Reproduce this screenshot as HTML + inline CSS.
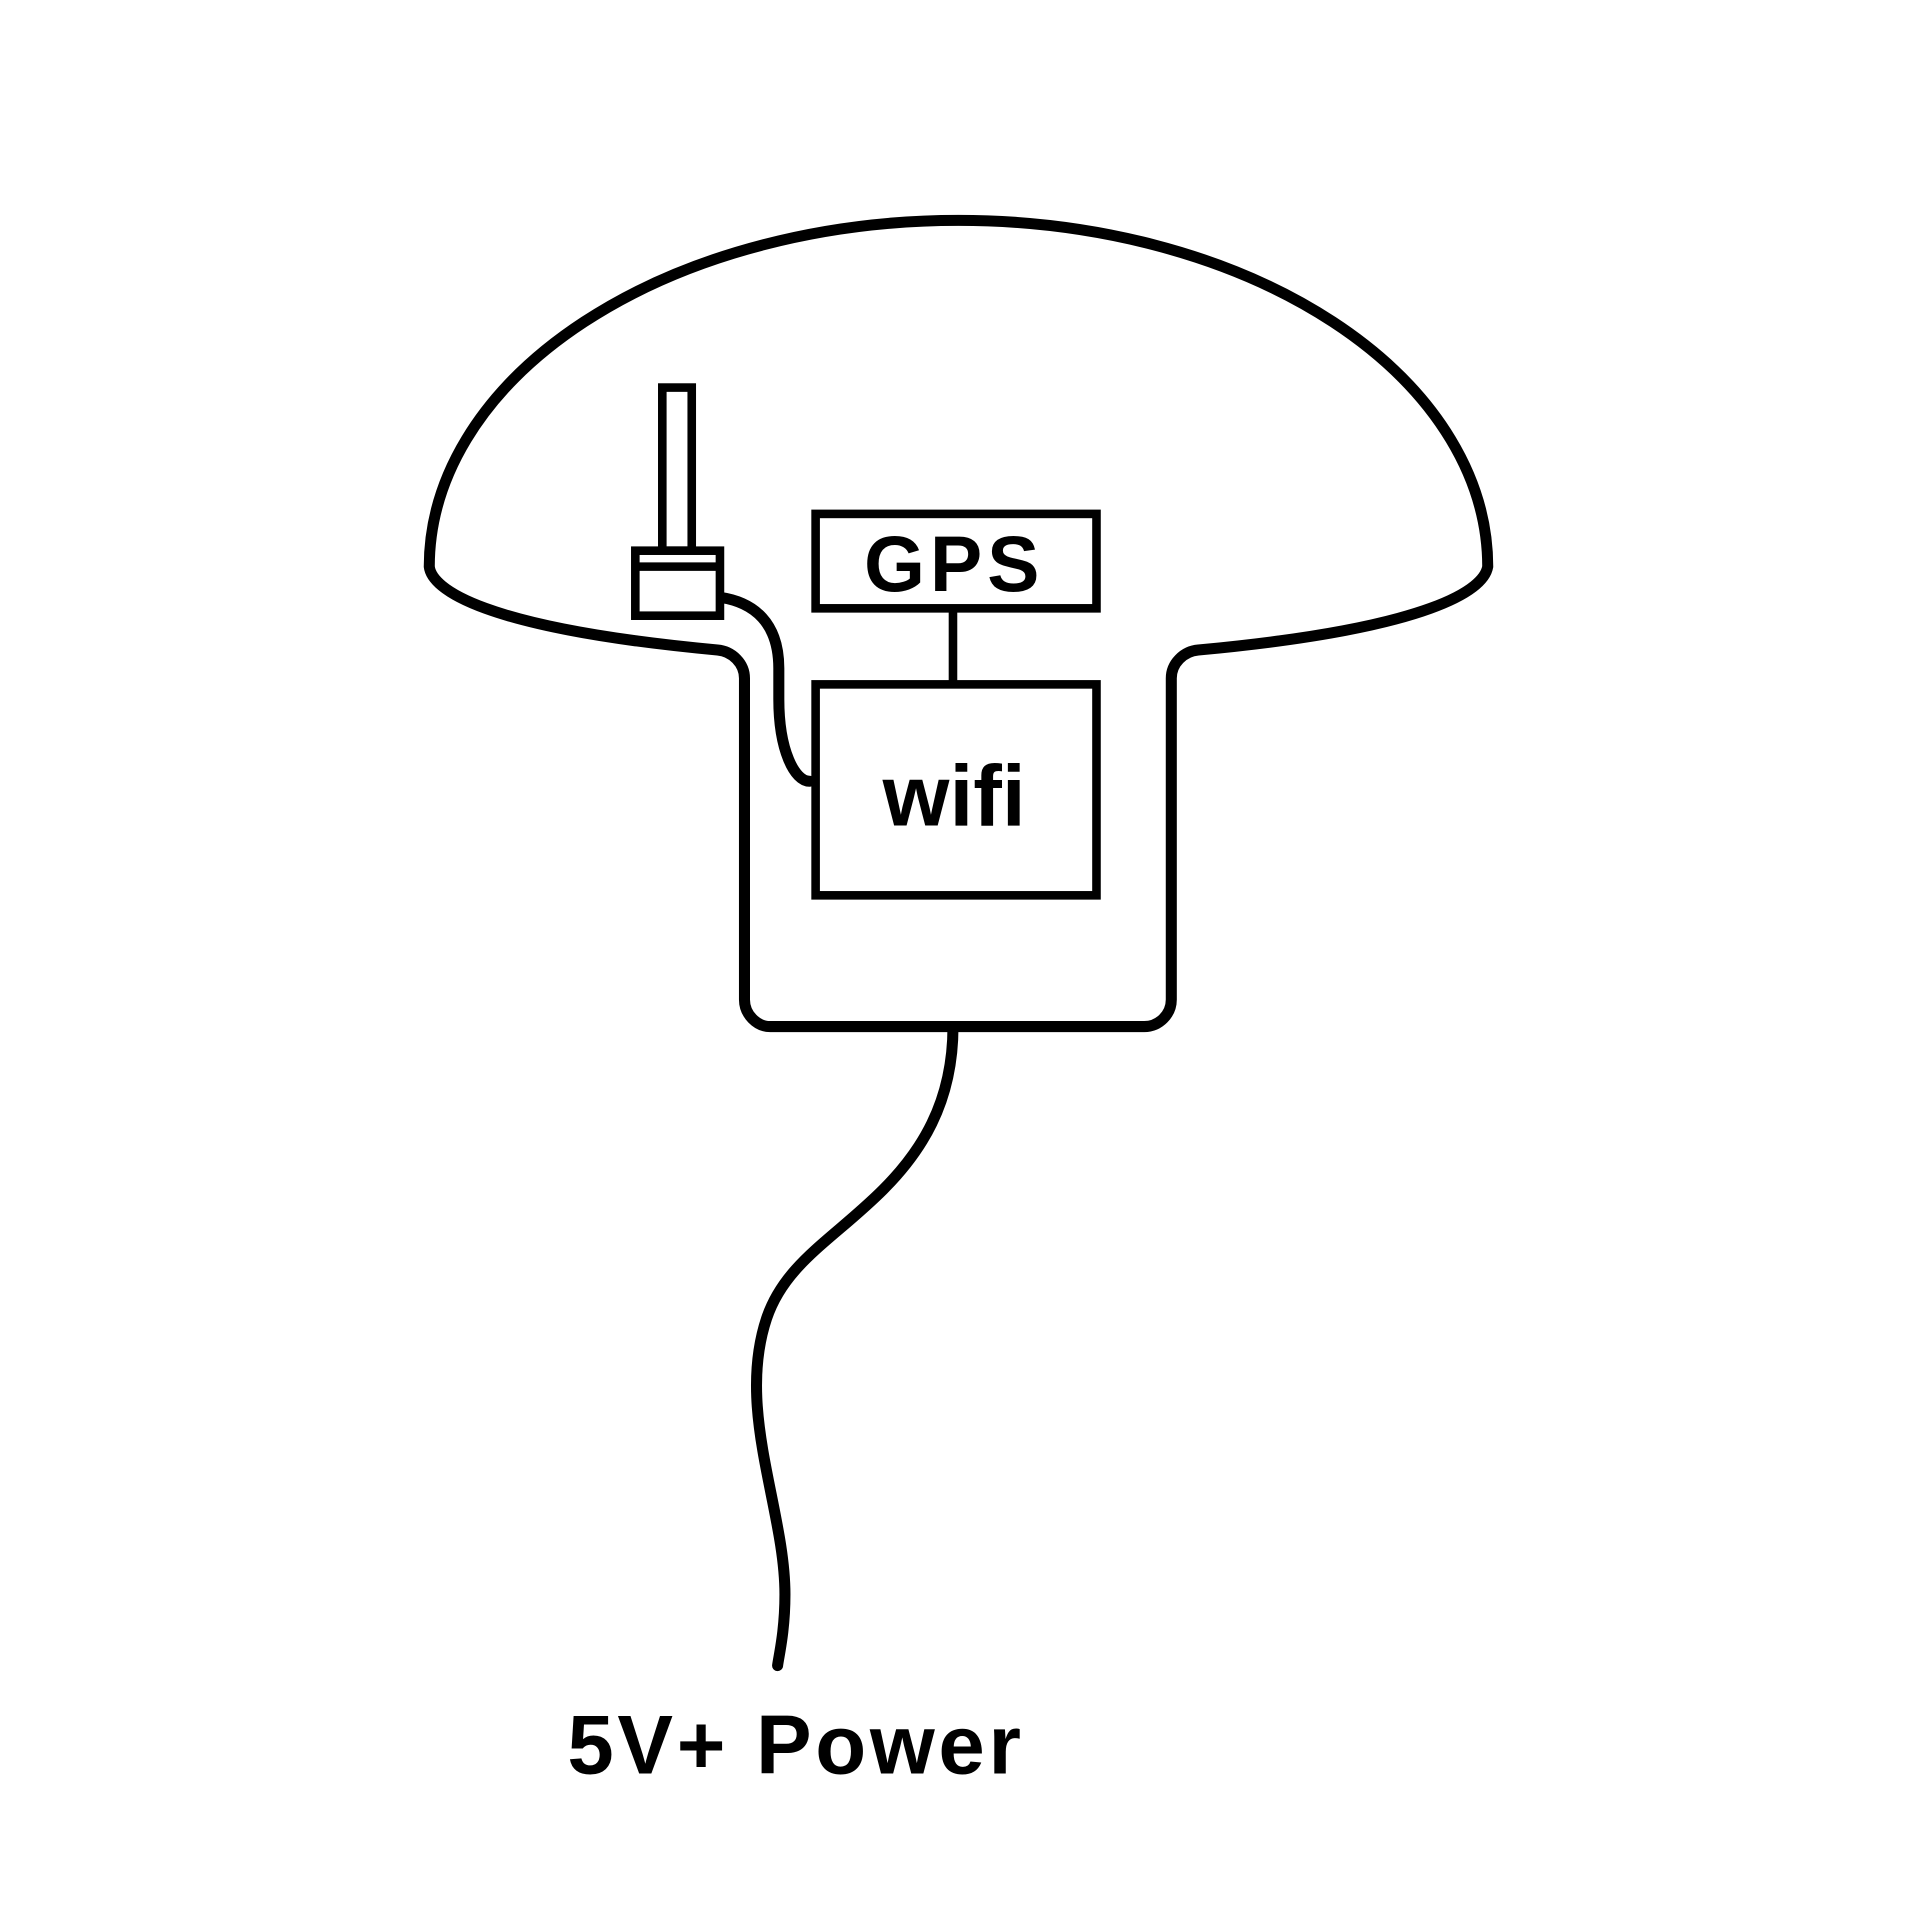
<!DOCTYPE html>
<html><head><meta charset="utf-8"><style>
html,body{margin:0;padding:0;background:#fff;}
svg{display:block;}
text{font-family:"Liberation Sans",sans-serif;font-weight:bold;fill:#000;}
</style></head><body>
<svg width="1917" height="1917" viewBox="0 0 1563 1563" xmlns="http://www.w3.org/2000/svg">
<g fill="none" stroke="#000" stroke-width="9" stroke-linejoin="round" stroke-linecap="round">
<path d="M350,462 A431,282 0 0 1 1213,462 C1210,480 1170,512 977,530 C965,531 955,541 955,553 L955,815 C955,827 945,837 933,837 L628,837 C617,837 607,827 607,815 L607,553 C607,541 597,531 585,530 C392,512 352,480 350,462 Z"/>
<path d="M777,837 C777,900 750,940 720,970 C680,1010 640,1030 625,1075 C600,1150 640,1230 640,1300 C640,1330 635,1350 634,1358"/>
<path d="M587,487 C615,491 635,508 635,545 L635,570 C635,612 648,637 660,637"/>
</g>
<g fill="#fff" stroke="#000" stroke-width="7">
<rect x="540" y="316" width="24" height="133"/>
<rect x="518" y="449" width="69" height="53"/>
<line x1="518" y1="462" x2="587" y2="462"/>
<rect x="665" y="419" width="229" height="77"/>
<line x1="777" y1="496" x2="777" y2="558"/>
<rect x="665" y="558" width="229" height="172"/>
</g>
<text x="778" y="482" font-size="64" text-anchor="middle" letter-spacing="4">GPS</text>
<text x="778" y="673" font-size="70" text-anchor="middle">wifi</text>
<text x="649" y="1446" font-size="68" text-anchor="middle" letter-spacing="3">5V+ Power</text>
</svg>
</body></html>
